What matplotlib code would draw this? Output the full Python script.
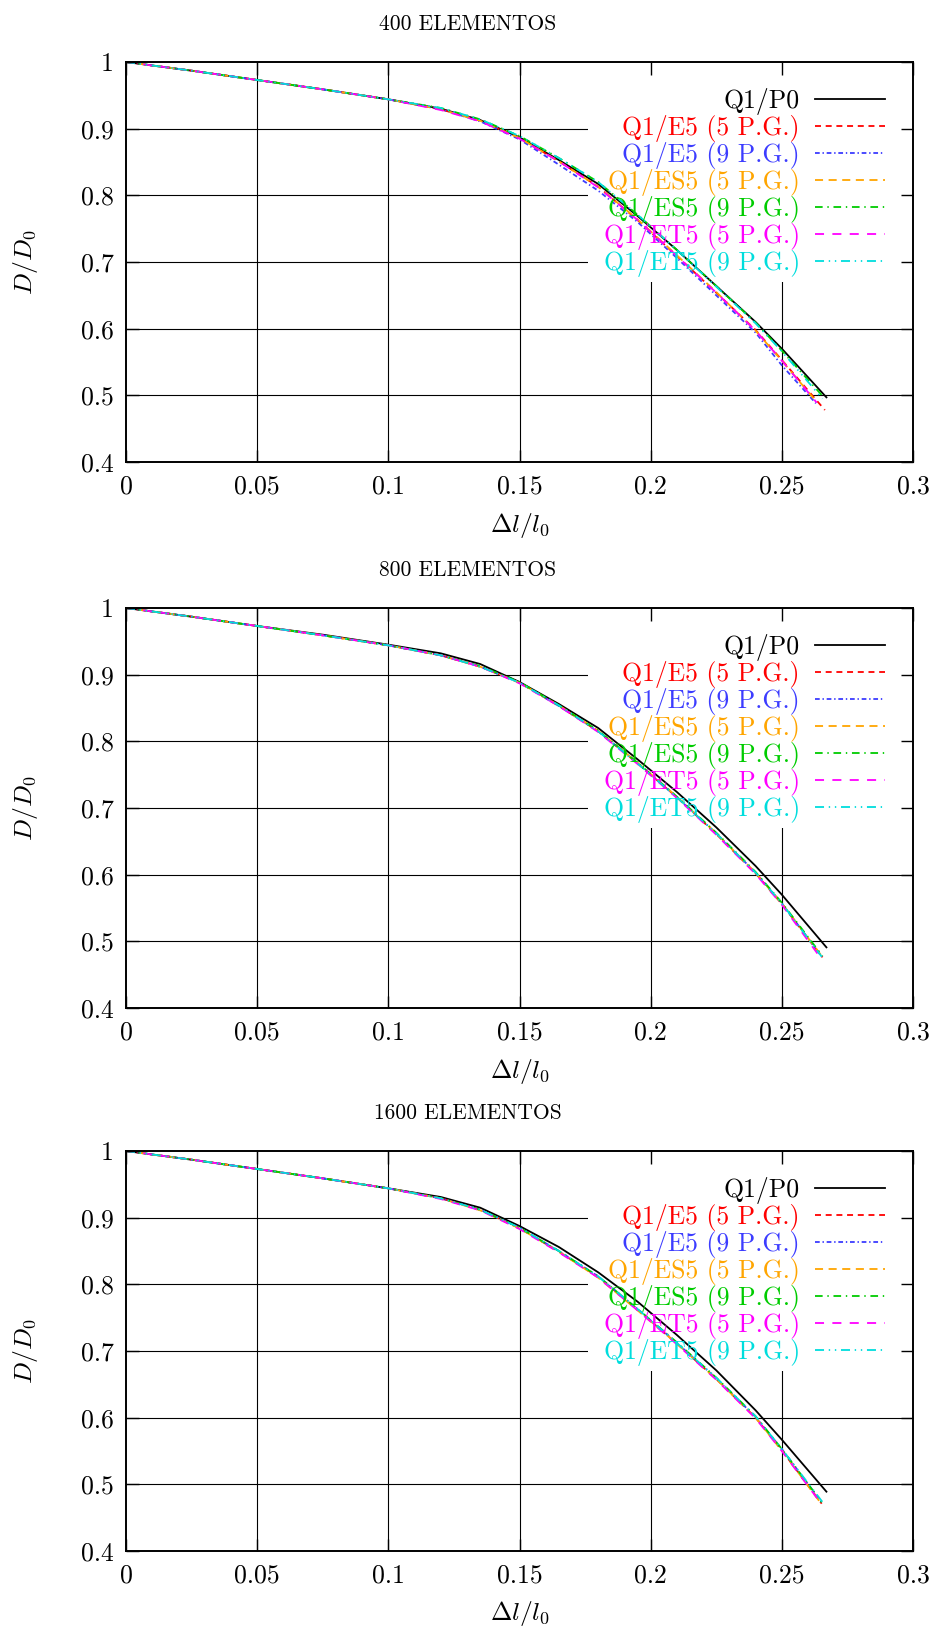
import matplotlib

matplotlib.use("Agg")
import matplotlib.pyplot as plt
from matplotlib.patches import Rectangle

plt.rcParams["font.family"] = ["cmr10", "DejaVu Serif"]
plt.rcParams["mathtext.fontset"] = "cm"
plt.rcParams["axes.formatter.use_mathtext"] = True
plt.rcParams["lines.scale_dashes"] = False

# ---- data ----
titles = ["400 ELEMENTOS", "800 ELEMENTOS", "1600 ELEMENTOS"]
labels = ["Q1/P0", "Q1/E5 (5 P.G.)", "Q1/E5 (9 P.G.)", "Q1/ES5 (5 P.G.)",
          "Q1/ES5 (9 P.G.)", "Q1/ET5 (5 P.G.)", "Q1/ET5 (9 P.G.)"]
x_ticks = [0, 0.05, 0.1, 0.15, 0.2, 0.25, 0.3]
x_tick_labels = ["0", "0.05", "0.1", "0.15", "0.2", "0.25", "0.3"]
y_ticks = [0.4, 0.5, 0.6, 0.7, 0.8, 0.9, 1.0]
y_tick_labels = ["0.4", "0.5", "0.6", "0.7", "0.8", "0.9", "1"]

# common strain grid; each series then gets its own last point
x_grid = [0, 0.025, 0.05, 0.075, 0.1, 0.12, 0.135, 0.15, 0.165, 0.18, 0.195, 0.21, 0.225, 0.24, 0.25]

# 400 elements
p1_y = [
    [1.0, 0.987, 0.973, 0.959, 0.944, 0.930, 0.913, 0.887, 0.853, 0.817, 0.769, 0.718, 0.664, 0.610, 0.570],
    [1.0, 0.987, 0.973, 0.959, 0.944, 0.929, 0.912, 0.886, 0.851, 0.813, 0.763, 0.709, 0.654, 0.598, 0.553],
    [1.0, 0.987, 0.973, 0.959, 0.944, 0.929, 0.911, 0.884, 0.846, 0.807, 0.760, 0.706, 0.650, 0.594, 0.545],
    [1.0, 0.987, 0.973, 0.959, 0.944, 0.929, 0.912, 0.886, 0.851, 0.813, 0.764, 0.710, 0.655, 0.597, 0.552],
    [1.0, 0.987, 0.973, 0.959, 0.944, 0.931, 0.914, 0.889, 0.856, 0.820, 0.771, 0.718, 0.664, 0.609, 0.567],
    [1.0, 0.987, 0.973, 0.959, 0.944, 0.928, 0.911, 0.885, 0.851, 0.812, 0.763, 0.709, 0.654, 0.597, 0.552],
    [1.0, 0.987, 0.973, 0.959, 0.944, 0.931, 0.914, 0.889, 0.856, 0.820, 0.771, 0.718, 0.663, 0.608, 0.566],
]
p1_end_x = [0.267, 0.2664, 0.263, 0.2633, 0.266, 0.2633, 0.2655]
p1_end_y = [0.497, 0.478, 0.488, 0.490, 0.497, 0.489, 0.495]

# 800 elements
p2_y = [
    [1.0, 0.987, 0.973, 0.960, 0.945, 0.932, 0.916, 0.889, 0.856, 0.820, 0.773, 0.724, 0.671, 0.613, 0.570],
    [1.0, 0.987, 0.973, 0.959, 0.944, 0.929, 0.912, 0.888, 0.853, 0.815, 0.767, 0.716, 0.661, 0.602, 0.556],
    [1.0, 0.987, 0.973, 0.959, 0.944, 0.929, 0.912, 0.888, 0.853, 0.815, 0.767, 0.716, 0.662, 0.603, 0.557],
    [1.0, 0.987, 0.973, 0.959, 0.944, 0.929, 0.912, 0.888, 0.854, 0.816, 0.768, 0.717, 0.662, 0.603, 0.557],
    [1.0, 0.987, 0.973, 0.959, 0.944, 0.929, 0.913, 0.889, 0.854, 0.816, 0.768, 0.717, 0.663, 0.604, 0.558],
    [1.0, 0.987, 0.973, 0.959, 0.944, 0.929, 0.912, 0.887, 0.853, 0.814, 0.766, 0.715, 0.660, 0.601, 0.555],
    [1.0, 0.987, 0.973, 0.959, 0.944, 0.929, 0.912, 0.888, 0.854, 0.815, 0.767, 0.716, 0.662, 0.603, 0.557],
]
p2_end_x = [0.267, 0.2655, 0.2652, 0.2652, 0.2655, 0.2650, 0.2652]
p2_end_y = [0.491, 0.476, 0.477, 0.478, 0.478, 0.474, 0.477]

# 1600 elements
p3_y = [
    [1.0, 0.987, 0.973, 0.959, 0.944, 0.931, 0.915, 0.8875, 0.856, 0.818, 0.774, 0.724, 0.671, 0.611, 0.567],
    [1.0, 0.987, 0.973, 0.959, 0.944, 0.929, 0.912, 0.884, 0.849, 0.811, 0.762, 0.711, 0.658, 0.600, 0.551],
    [1.0, 0.987, 0.973, 0.959, 0.944, 0.929, 0.912, 0.885, 0.850, 0.812, 0.763, 0.712, 0.659, 0.601, 0.553],
    [1.0, 0.987, 0.973, 0.959, 0.944, 0.929, 0.911, 0.884, 0.849, 0.810, 0.761, 0.711, 0.658, 0.600, 0.551],
    [1.0, 0.987, 0.973, 0.959, 0.944, 0.929, 0.912, 0.885, 0.850, 0.812, 0.763, 0.713, 0.660, 0.602, 0.553],
    [1.0, 0.987, 0.973, 0.959, 0.944, 0.928, 0.911, 0.883, 0.848, 0.810, 0.761, 0.710, 0.657, 0.599, 0.550],
    [1.0, 0.987, 0.973, 0.959, 0.944, 0.929, 0.912, 0.885, 0.850, 0.812, 0.763, 0.712, 0.660, 0.602, 0.553],
]
p3_end_x = [0.267, 0.2652, 0.2652, 0.2650, 0.2652, 0.2652, 0.2654]
p3_end_y = [0.489, 0.471, 0.473, 0.471, 0.473, 0.470, 0.474]

panels = [(p1_y, p1_end_x, p1_end_y), (p2_y, p2_end_x, p2_end_y), (p3_y, p3_end_x, p3_end_y)]

# ---- styles ----
colors = ["black", "#ff0000", "#3c3cff", "#ffa500", "#00cc00", "#ff00ff", "#00dddd"]
styles = ["-", (0, (4.3, 3.4)), (0, (3.4, 2.0, 1.0, 2.0)), (0, (5.8, 4.0)),
          (0, (5.5, 3.4, 1.0, 3.4)), (0, (6.5, 6.0)), (0, (6.5, 3.4, 1.0, 3.4, 1.0, 3.4))]

W, H = 935, 1641
FS = 18.5
fig = plt.figure(figsize=(W / 100, H / 100), dpi=100)
left, right = 126, 913
tops = [62, 608, 1151]
ax_h = 400

for (ys, ex, ey), top, title in zip(panels, tops, titles):
    ax = fig.add_axes([left / W, 1 - (top + ax_h) / H, (right - left) / W, ax_h / H])
    ax.set_xlim(0, 0.3)
    ax.set_ylim(0.4, 1.0)

    # grid behind everything, drawn from the tick lists
    ax.vlines(x_ticks[1:-1], 0.4, 1.0, color="black", lw=0.8, zorder=0.3)
    ax.hlines(y_ticks[1:-1], 0, 0.3, color="black", lw=0.8, zorder=0.3)
    # opaque key area
    ax.add_patch(Rectangle((0.587, 0.45), 0.413, 0.55, transform=ax.transAxes,
                           facecolor="white", edgecolor="none", zorder=1.0))

    handles = []
    for k in range(7):
        xs = x_grid + [ex[k]]
        yv = ys[k] + [ey[k]]
        ln, = ax.plot(xs, yv, color=colors[k], ls=styles[k], lw=1.3, zorder=2 + k * 0.01,
                      label=labels[k])
        handles.append(ln)

    ax.set_xticks(x_ticks)
    ax.set_xticklabels(x_tick_labels)
    ax.set_yticks(y_ticks)
    ax.set_yticklabels(y_tick_labels)
    ax.tick_params(direction="in", length=9, width=1.0, top=True, right=True,
                   labelsize=FS, pad=9)
    ax.set_axisbelow(False)
    for sp in ax.spines.values():
        sp.set_linewidth(1.4)

    ax.set_xlabel(r"$\Delta l/l_0$", fontsize=FS)
    ax.xaxis.set_label_coords(0.5, -63 / ax_h)
    ax.xaxis.label.set_va("center")
    ax.set_ylabel(r"$D/D_0$", fontsize=FS)
    ax.yaxis.set_label_coords(-100 / (right - left), 0.5)
    ax.yaxis.label.set_va("center")

    leg = ax.legend(handles=handles, loc="upper right", bbox_to_anchor=(0.964, 0.935),
                    frameon=False, markerfirst=False, labelcolor="linecolor",
                    fontsize=FS, handlelength=2.7, handletextpad=0.6,
                    labelspacing=0.0, borderpad=0, borderaxespad=0)
    leg.set_zorder(5)

    fig.text(0.5, 1 - (top - 38) / H, title, ha="center", va="center", fontsize=15.5)

fig.savefig("out.png", dpi=100)
